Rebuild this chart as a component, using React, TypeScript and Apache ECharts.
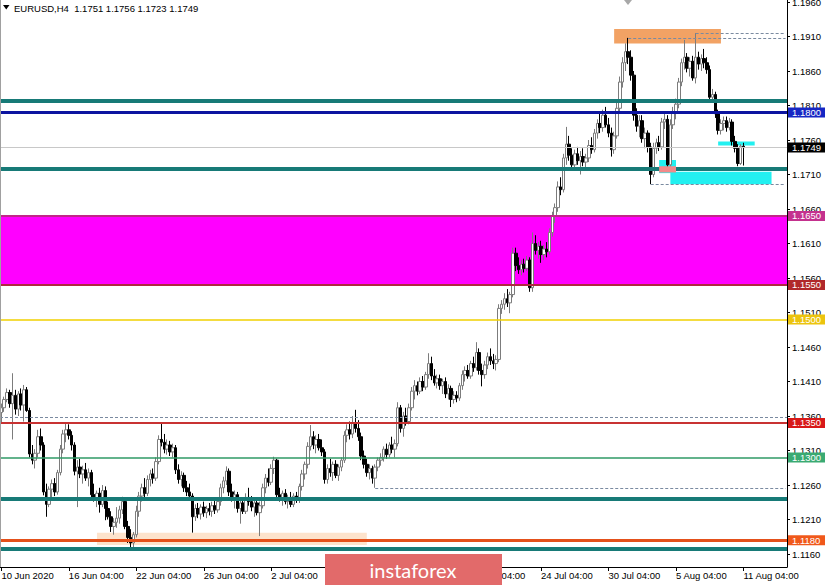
import React, { useEffect, useRef } from 'react';
import * as echarts from 'echarts';

// Prices stored as the last four digits after "1." (e.g. 1369 -> 1.1369)
const openP = [
  1365,1372,1384,1394,1378,1390,1370,1392,1376,1398,1368,1305,1296,1306,1330,1318,1250,1232,1254,1262,
  1250,1278,1312,1334,1340,1332,1318,1280,1286,1276,1282,1270,1278,1246,1240,1248,1232,1252,1226,1214,
  1200,1206,1212,1224,1236,1200,1184,1176,1188,1222,1244,1256,1248,1268,1276,1270,1294,1326,1322,1312,
  1318,1308,1314,1282,1268,1274,1256,1250,1244,1214,1226,1218,1228,1220,1226,1222,1230,1224,1236,1256,
  1266,1280,1250,1240,1246,1226,1234,1222,1242,1236,1228,1234,1220,1230,1256,1270,1264,1284,1296,1246,
  1240,1248,1236,1242,1232,1244,1238,1258,1276,1290,1316,1330,1318,1326,1314,1308,1268,1284,1278,1290,
  1274,1286,1296,1332,1340,1334,1350,1342,1330,1302,1290,1278,1284,1270,1286,1296,1300,1312,1304,1318,
  1312,1320,1372,1342,1360,1352,1372,1396,1404,1396,1410,1402,1420,1436,1418,1408,1414,1404,1410,1392,
  1400,1384,1390,1386,1404,1420,1426,1418,1436,1430,1452,1426,1420,1434,1446,1440,1436,1442,1516,1522,
  1530,1524,1536,1596,1578,1572,1580,1574,1586,1546,1610,1600,1606,1594,1602,1598,1626,1650,1662,1692,
  1688,1734,1754,1738,1724,1740,1730,1736,1728,1734,1752,1746,1770,1784,1778,1796,1782,1770,1746,1766,
  1806,1844,1872,1888,1880,1854,1796,1780,1788,1762,1770,1750,1710,1748,1756,1750,1786,1790,1724,1782,
  1800,1812,1844,1872,1880,1864,1874,1850,1880,1870,1878,1872,1862,1822,1826,1798,1774,1784,1788,1778,
  1786,1758,1748,1726,1751
];
const highP = [
  1378,1388,1400,1398,1422,1398,1396,1400,1405,1402,1372,1318,1312,1340,1342,1322,1262,1258,1268,1270,
  1282,1318,1340,1351,1348,1338,1322,1296,1298,1288,1292,1284,1282,1262,1252,1256,1260,1258,1236,1222,
  1212,1228,1230,1243,1240,1208,1196,1192,1230,1250,1262,1270,1274,1282,1284,1300,1332,1350,1334,1326,
  1324,1320,1318,1290,1280,1278,1266,1262,1248,1232,1234,1232,1236,1230,1234,1236,1238,1240,1262,1272,
  1287,1284,1262,1252,1250,1240,1242,1248,1256,1244,1240,1238,1236,1262,1276,1284,1290,1301,1298,1256,
  1252,1254,1246,1250,1248,1250,1262,1282,1294,1322,1347,1338,1332,1334,1326,1312,1290,1298,1294,1296,
  1290,1300,1338,1348,1352,1360,1369,1354,1336,1310,1298,1290,1288,1290,1300,1306,1316,1320,1322,1330,
  1326,1380,1376,1366,1372,1378,1402,1412,1410,1416,1418,1424,1451,1446,1428,1420,1420,1414,1416,1406,
  1404,1396,1396,1408,1426,1432,1434,1440,1446,1467,1458,1436,1440,1452,1458,1450,1448,1522,1528,1538,
  1544,1540,1604,1604,1590,1586,1588,1592,1590,1626,1622,1612,1614,1608,1612,1632,1656,1668,1700,1706,
  1740,1779,1766,1748,1746,1750,1744,1748,1740,1760,1764,1776,1790,1800,1804,1808,1792,1778,1772,1814,
  1852,1880,1900,1908,1890,1860,1806,1796,1796,1778,1774,1756,1756,1762,1766,1792,1798,1796,1790,1808,
  1820,1850,1878,1905,1886,1880,1882,1915,1888,1884,1892,1880,1868,1834,1830,1804,1790,1794,1794,1792,
  1790,1766,1754,1754,1756
];
const lowP = [
  1350,1366,1380,1372,1326,1362,1360,1368,1352,1366,1300,1290,1284,1300,1310,1245,1214,1228,1240,1244,
  1246,1274,1306,1322,1326,1310,1274,1228,1270,1262,1266,1258,1240,1236,1228,1220,1228,1209,1210,1192,
  1188,1198,1204,1218,1196,1176,1166,1170,1184,1214,1236,1240,1244,1258,1262,1266,1290,1316,1306,1304,
  1302,1300,1276,1262,1258,1250,1244,1238,1191,1208,1212,1210,1214,1212,1216,1214,1218,1220,1230,1248,
  1260,1244,1236,1226,1220,1204,1218,1218,1230,1222,1214,1216,1186,1226,1248,1258,1260,1276,1240,1236,
  1230,1232,1226,1228,1228,1234,1234,1252,1268,1284,1310,1312,1306,1310,1302,1262,1262,1272,1266,1270,
  1266,1280,1292,1322,1326,1328,1336,1324,1296,1284,1272,1268,1262,1256,1280,1288,1294,1298,1300,1306,
  1300,1316,1336,1330,1346,1348,1368,1384,1390,1392,1396,1398,1414,1412,1404,1400,1398,1392,1386,1384,
  1373,1378,1380,1382,1398,1410,1414,1414,1424,1426,1420,1403,1414,1428,1434,1428,1426,1438,1508,1514,
  1518,1509,1532,1570,1566,1564,1568,1570,1540,1540,1594,1588,1582,1586,1590,1594,1620,1640,1656,1680,
  1684,1724,1730,1716,1716,1724,1710,1722,1718,1728,1740,1742,1762,1770,1772,1778,1764,1736,1740,1762,
  1800,1836,1860,1870,1846,1788,1772,1764,1756,1748,1742,1696,1706,1740,1744,1746,1776,1720,1720,1776,
  1790,1806,1838,1862,1858,1852,1846,1842,1862,1860,1864,1856,1816,1814,1792,1768,1768,1774,1772,1774,
  1752,1742,1722,1724,1723
];
const closeP = [
  1372,1384,1394,1378,1390,1370,1392,1376,1398,1368,1305,1296,1306,1330,1318,1250,1232,1254,1262,1250,
  1278,1312,1334,1340,1332,1318,1280,1286,1276,1282,1270,1278,1246,1240,1248,1232,1252,1226,1214,1200,
  1206,1212,1224,1236,1200,1184,1176,1188,1222,1244,1256,1248,1268,1276,1270,1294,1326,1322,1312,1318,
  1308,1314,1282,1268,1274,1256,1250,1244,1214,1226,1218,1228,1220,1226,1222,1230,1224,1236,1256,1266,
  1280,1250,1240,1246,1226,1234,1222,1242,1236,1228,1234,1220,1230,1256,1270,1264,1284,1296,1246,1240,
  1248,1236,1242,1232,1244,1238,1258,1276,1290,1316,1330,1318,1326,1314,1308,1268,1284,1278,1290,1274,
  1286,1296,1332,1340,1334,1350,1342,1330,1302,1290,1278,1284,1270,1286,1296,1300,1312,1304,1318,1312,
  1320,1372,1342,1360,1352,1372,1396,1404,1396,1410,1402,1420,1436,1418,1408,1414,1404,1410,1392,1400,
  1384,1390,1386,1404,1420,1426,1418,1436,1430,1452,1426,1420,1434,1446,1440,1436,1442,1516,1522,1530,
  1524,1536,1596,1578,1572,1580,1574,1586,1546,1610,1600,1606,1594,1602,1598,1626,1650,1662,1692,1688,
  1734,1754,1738,1724,1740,1730,1736,1728,1734,1752,1746,1770,1784,1778,1796,1782,1770,1746,1766,1806,
  1844,1872,1888,1880,1854,1796,1780,1788,1762,1770,1750,1710,1748,1756,1750,1786,1790,1724,1782,1800,
  1812,1844,1872,1880,1864,1874,1850,1880,1870,1878,1872,1862,1822,1826,1798,1774,1784,1788,1778,1786,
  1758,1748,1726,1751,1749
];

const SYMBOL = 'EURUSD,H4';
const SLOT_COUNT = 280;
const xTickIdx = [0, 24, 48, 72, 96, 120, 144, 168, 192, 216, 240, 264];
// labels at 120 and 144 lie fully under the watermark in the reference
const xTickText = [
  '10 Jun 2020', '16 Jun 04:00', '22 Jun 04:00', '26 Jun 04:00', '2 Jul 04:00', '',
  '', '20 Jul 04:00', '24 Jul 04:00', '30 Jul 04:00', '5 Aug 04:00', '11 Aug 04:00'
];
const yTickValues = [
  1.1160, 1.1210, 1.1260, 1.1310, 1.1360, 1.1410, 1.1460, 1.1510, 1.1560,
  1.1610, 1.1660, 1.1710, 1.1760, 1.1810, 1.1860, 1.1910, 1.1960
];
const Y_MIN = 1.11412;
const Y_MAX = 1.19629;

// Horizontal levels with a price box on the axis
const labeledLevels = [1.1800, 1.1749, 1.1650, 1.1550, 1.1500, 1.1350, 1.1300, 1.1180];
// Thick teal support/resistance lines
const tealLevels = [1.1817, 1.1718, 1.1240, 1.1168];
// Dotted lines: [start candle index, price]
const dottedFrom = [[133, 1.1256], [231, 1.1696], [223, 1.1908], [247, 1.1915]];
const dottedFull = [1.1358];
// Zones
const magentaZone = [1.1550, 1.1650];
const orangeZone = [218, 256, 1.1900, 1.1921];
const peachZone = [34, 130, 1.1173, 1.1191];
const cyanZones = [
  [234, 240, 1.1712, 1.1731],
  [238, 274, 1.1696, 1.1714],
  [255, 268, 1.1752, 1.1758],
];
const pinkZone = [234, 240, 1.1713, 1.1722];

const FONT = '"Liberation Sans", Arial, sans-serif';
const px = (v: number) => 1 + v / 10000;

const levelStyle: Record<string, { line: string; width: number; box: string }> = {
  '1.1800': { line: '#0c14a0', width: 3, box: '#1626c4' },
  '1.1749': { line: '#c8c8c8', width: 1, box: '#000000' },
  '1.1650': { line: '#c02888', width: 2, box: '#c4318e' },
  '1.1550': { line: '#b02840', width: 2, box: '#b0282a' },
  '1.1500': { line: '#f0d000', width: 1.6, box: '#ecc40e' },
  '1.1350': { line: '#c83232', width: 2, box: '#d81818' },
  '1.1300': { line: '#2f9a66', width: 1.6, box: '#3aaa72' },
  '1.1180': { line: '#e4501a', width: 3, box: '#f0581a' },
};

export default function App() {
  const ref = useRef<HTMLDivElement>(null);
  useEffect(() => {
    document.body.style.margin = '0';
    if (!ref.current) return;
    const chart = echarts.init(ref.current, undefined, { renderer: 'svg' });

    const n = closeP.length;
    const candles = closeP.map((c, i) => [px(openP[i]), px(c), px(lowP[i]), px(highP[i])]);
    const slots = Array.from({ length: SLOT_COUNT }, (_, i) => String(i));
    const tickMap: Record<number, string> = {};
    xTickIdx.forEach((k, j) => (tickMap[k] = xTickText[j]));
    const isTick = (i: number) => tickMap[i] !== undefined;

    const labeledLines = labeledLevels.map((v) => {
      const s = levelStyle[v.toFixed(4)];
      return {
        yAxis: v,
        lineStyle: { color: s.line, width: s.width, type: 'solid' },
        label: {
          show: true,
          position: 'end',
          distance: 1,
          formatter: v.toFixed(4),
          color: '#ffffff',
          backgroundColor: s.box,
          padding: [1, 5, 0, 4],
          fontSize: 9.5,
          lineHeight: 9,
          fontFamily: FONT,
        },
      };
    });
    const tealLines = tealLevels.map((v) => ({
      yAxis: v,
      lineStyle: { color: '#177a77', width: 4, type: 'solid' },
      label: { show: false },
    }));
    const dottedLines: any[] = dottedFrom.map(([i, v]) => [
      { coord: [i, v], lineStyle: { color: '#7a8aa0', width: 1, type: [3, 2] }, label: { show: false } },
      { coord: [SLOT_COUNT - 1, v] },
    ]);
    dottedFull.forEach((v) =>
      dottedLines.push({ yAxis: v, lineStyle: { color: '#7a8aa0', width: 1, type: [3, 2] }, label: { show: false } })
    );

    const area = (z: number[], color: string) => [
      { xAxis: z[0], yAxis: z[2], itemStyle: { color, opacity: 1 } },
      { xAxis: z[1], yAxis: z[3] },
    ];

    const last = n - 1;
    const header = `${SYMBOL}  ${px(openP[last]).toFixed(4)} ${px(highP[last]).toFixed(4)} ${px(lowP[last]).toFixed(4)} ${px(closeP[last]).toFixed(4)}`;

    chart.setOption({
      animation: false,
      backgroundColor: '#ffffff',
      textStyle: { fontFamily: FONT },
      grid: { left: 0, right: 38, top: 0, bottom: 18, containLabel: false, outerBoundsMode: 'none' },
      xAxis: {
        type: 'category',
        data: slots,
        boundaryGap: true,
        axisLine: { show: true, lineStyle: { color: '#000000', width: 1 } },
        axisTick: { show: true, alignWithLabel: true, interval: (i: number) => isTick(i), length: 4, lineStyle: { color: '#000000' } },
        axisLabel: {
          interval: (i: number) => isTick(i),
          formatter: (val: string) => tickMap[Number(val)] ?? '',
          align: 'left',
          margin: 3,
          color: '#000000',
          fontSize: 9.5,
          fontFamily: FONT,
          hideOverlap: false,
        },
        splitLine: { show: false },
      },
      yAxis: {
        type: 'value',
        position: 'right',
        min: Y_MIN,
        max: Y_MAX,
        scale: true,
        splitLine: { show: false },
        axisLine: { show: true, lineStyle: { color: '#000000', width: 1 } },
        axisTick: { show: true, length: 3, lineStyle: { color: '#000000' }, customValues: yTickValues },
        axisLabel: {
          customValues: yTickValues,
          formatter: (v: number) => v.toFixed(4),
          margin: 5,
          color: '#000000',
          fontSize: 9.5,
          fontFamily: FONT,
        },
      },
      series: [
        {
          type: 'candlestick',
          name: SYMBOL,
          data: candles,
          barWidth: 3,
          z: 2,
          itemStyle: {
            color: '#ffffff',
            color0: '#000000',
            borderColor: '#7c7c7c',
            borderColor0: '#000000',
            borderWidth: 1,
          },
          markArea: {
            silent: true,
            z: 1,
            data: [
              [
                { yAxis: magentaZone[0], itemStyle: { color: '#ff00ff', opacity: 1 } },
                { yAxis: magentaZone[1] },
              ],
              area(peachZone, '#fde3cc'),
              area(orangeZone, '#f2a264'),
              ...cyanZones.map((z) => area(z, '#22f0f0')),
            ],
          },
          markLine: {
            silent: true,
            z: 5,
            symbol: ['none', 'none'],
            precision: 4,
            data: [...dottedLines, ...tealLines, ...labeledLines],
          },
        },
        {
          type: 'line',
          name: 'overlay',
          data: [],
          z: 6,
          markArea: {
            silent: true,
            z: 6,
            data: [area(pinkZone, '#f28a8a')],
          },
        },
      ],
      graphic: [
        { type: 'line', shape: { x1: 0.5, y1: 0, x2: 0.5, y2: 567 }, style: { stroke: '#a0a0a0', lineWidth: 1 }, z: 50 },
        { type: 'polygon', shape: { points: [[3, 5], [9.5, 5], [6.25, 9.5]] }, style: { fill: '#000000' }, z: 50 },
        {
          type: 'text', x: 14, y: 8.5, z: 50,
          style: { text: header, fill: '#000000', font: `9.5px ${FONT}`, verticalAlign: 'middle' },
        },
        { type: 'polygon', shape: { points: [[624, 0], [632, 0], [628, 5]] }, style: { fill: '#a8a8a8' }, z: 50 },
        { type: 'rect', shape: { x: 325, y: 554, width: 177, height: 31 }, style: { fill: '#e26a6a' }, z: 100 },
        {
          type: 'text', x: 413, y: 569.5, z: 101,
          style: { text: 'instaforex', fill: '#ffffff', font: '20px Lato, "Open Sans", sans-serif', align: 'center', verticalAlign: 'middle' },
        },
      ],
    });
    return () => chart.dispose();
  }, []);
  return <div ref={ref} style={{ width: 825, height: 585 }} />;
}
